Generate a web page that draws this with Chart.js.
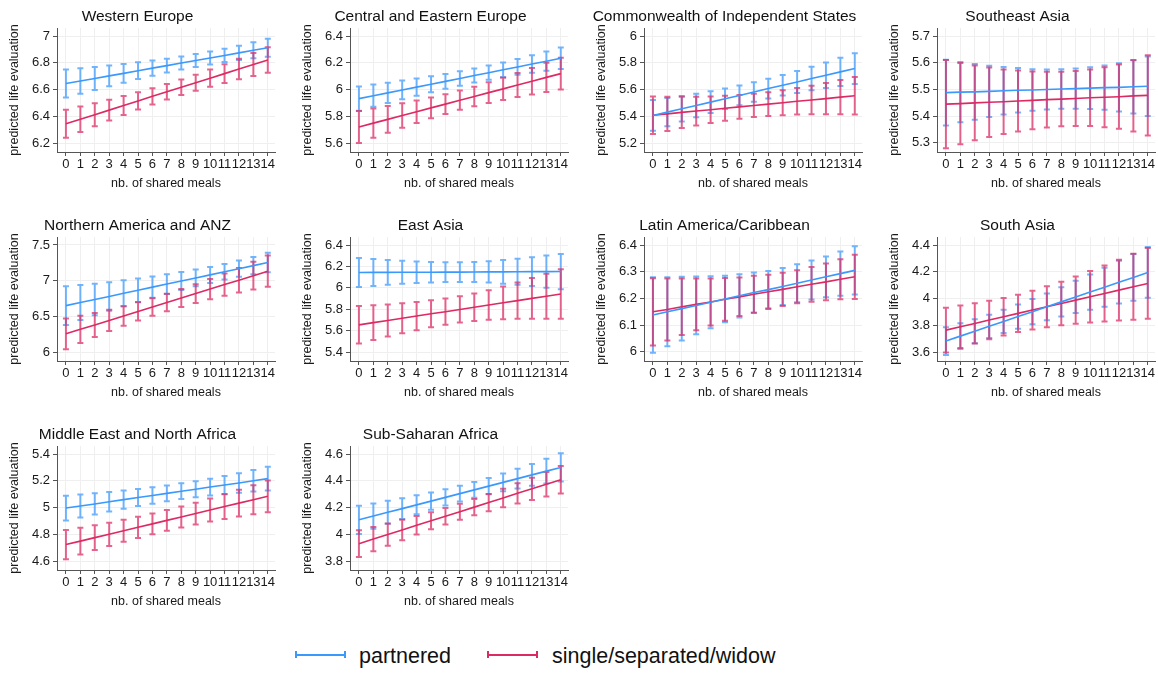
<!DOCTYPE html>
<html>
<head>
<meta charset="utf-8">
<script src="https://cdn.jsdelivr.net/npm/chart.js@4/dist/chart.umd.min.js"></script>
<style>
  body { margin: 0; background: #fff; font-family: "Liberation Sans", Arial, Helvetica, sans-serif; }
  #wrap { position: relative; width: 1158px; height: 673px; background: #fff; overflow: hidden; }
  #wrap canvas { position: absolute; }
  .sample { position: absolute; height: 7px; box-sizing: border-box; }
  .sample div { position: absolute; left: 0; right: 0; top: 2.5px; height: 2px; }
  .legtext { position: absolute; font-size: 21.5px; line-height: 26px; color: #111; white-space: nowrap; }
</style>
</head>
<body>
<div id="wrap">
  <div class="sample" style="left:295px;top:651px;width:51px;border-left:2px solid #3b99fc;border-right:2px solid #3b99fc"><div style="background:#3b99fc"></div></div>
  <div class="legtext" style="left:359px;top:643px">partnered</div>
  <div class="sample" style="left:487px;top:651px;width:51px;border-left:2px solid #dc2a63;border-right:2px solid #dc2a63"><div style="background:#dc2a63"></div></div>
  <div class="legtext" style="left:552px;top:643px">single/separated/widow</div>
</div>
<script>
// Predicted life evaluation by number of shared meals, by region

// x categories
const meals = [0, 1, 2, 3, 4, 5, 6, 7, 8, 9, 10, 11, 12, 13, 14];

// point estimates and half-width of the 95% CI (...Ci)
const westernEuropePartnered = [6.645, 6.664, 6.683, 6.702, 6.721, 6.741, 6.760, 6.779, 6.798, 6.817, 6.836, 6.855, 6.874, 6.894, 6.913];
const westernEuropePartneredCi = [0.104, 0.095, 0.086, 0.077, 0.070, 0.063, 0.057, 0.052, 0.049, 0.048, 0.048, 0.050, 0.054, 0.060, 0.067];
const westernEuropeSingle = [6.344, 6.378, 6.412, 6.446, 6.480, 6.515, 6.549, 6.583, 6.617, 6.651, 6.685, 6.719, 6.753, 6.787, 6.821];
const westernEuropeSingleCi = [0.105, 0.095, 0.086, 0.078, 0.071, 0.065, 0.061, 0.058, 0.058, 0.060, 0.064, 0.070, 0.077, 0.086, 0.095];

const centralEuropePartnered = [5.932, 5.954, 5.975, 5.997, 6.018, 6.040, 6.061, 6.083, 6.105, 6.126, 6.148, 6.169, 6.191, 6.212, 6.234];
const centralEuropePartneredCi = [0.090, 0.083, 0.076, 0.070, 0.065, 0.060, 0.056, 0.054, 0.053, 0.053, 0.055, 0.059, 0.065, 0.072, 0.080];
const centralEuropeSingle = [5.720, 5.749, 5.777, 5.806, 5.834, 5.863, 5.891, 5.920, 5.948, 5.977, 6.005, 6.034, 6.062, 6.091, 6.119];
const centralEuropeSingleCi = [0.120, 0.110, 0.100, 0.092, 0.084, 0.078, 0.074, 0.072, 0.073, 0.077, 0.083, 0.090, 0.099, 0.109, 0.119];

const cisPartnered = [5.406, 5.431, 5.456, 5.481, 5.506, 5.531, 5.556, 5.581, 5.607, 5.632, 5.657, 5.682, 5.707, 5.732, 5.757];
const cisPartneredCi = [0.115, 0.105, 0.095, 0.088, 0.082, 0.077, 0.074, 0.073, 0.074, 0.077, 0.082, 0.088, 0.095, 0.105, 0.115];
const cisSingle = [5.408, 5.418, 5.429, 5.439, 5.449, 5.460, 5.470, 5.481, 5.491, 5.501, 5.512, 5.522, 5.532, 5.543, 5.553];
const cisSingleCi = [0.140, 0.128, 0.117, 0.107, 0.099, 0.093, 0.089, 0.087, 0.089, 0.093, 0.099, 0.107, 0.117, 0.128, 0.140];

const seAsiaPartnered = [5.488, 5.490, 5.491, 5.493, 5.495, 5.497, 5.498, 5.500, 5.502, 5.503, 5.505, 5.507, 5.508, 5.510, 5.512];
const seAsiaPartneredCi = [0.123, 0.113, 0.104, 0.096, 0.089, 0.083, 0.078, 0.075, 0.074, 0.075, 0.078, 0.083, 0.090, 0.100, 0.111];
const seAsiaSingle = [5.445, 5.447, 5.450, 5.452, 5.454, 5.457, 5.459, 5.462, 5.464, 5.466, 5.469, 5.471, 5.473, 5.476, 5.478];
const seAsiaSingleCi = [0.165, 0.152, 0.140, 0.130, 0.121, 0.114, 0.108, 0.104, 0.102, 0.103, 0.106, 0.112, 0.120, 0.133, 0.150];

const northAmericaPartnered = [6.650, 6.693, 6.736, 6.779, 6.823, 6.866, 6.909, 6.952, 6.995, 7.038, 7.081, 7.125, 7.168, 7.211, 7.254];
const northAmericaPartneredCi = [0.270, 0.245, 0.222, 0.200, 0.182, 0.165, 0.150, 0.138, 0.127, 0.118, 0.112, 0.110, 0.113, 0.122, 0.137];
const northAmericaSingle = [6.255, 6.318, 6.380, 6.443, 6.506, 6.569, 6.631, 6.694, 6.757, 6.819, 6.882, 6.945, 7.007, 7.070, 7.133];
const northAmericaSingleCi = [0.216, 0.190, 0.168, 0.150, 0.137, 0.128, 0.124, 0.123, 0.125, 0.131, 0.141, 0.155, 0.172, 0.194, 0.220];

const eastAsiaPartnered = [6.143, 6.144, 6.144, 6.145, 6.146, 6.146, 6.147, 6.147, 6.148, 6.149, 6.149, 6.150, 6.151, 6.151, 6.152];
const eastAsiaPartneredCi = [0.136, 0.126, 0.116, 0.108, 0.101, 0.096, 0.093, 0.092, 0.094, 0.100, 0.110, 0.122, 0.135, 0.150, 0.165];
const eastAsiaSingle = [5.654, 5.675, 5.695, 5.716, 5.736, 5.757, 5.777, 5.798, 5.819, 5.839, 5.860, 5.880, 5.901, 5.921, 5.942];
const eastAsiaSingleCi = [0.175, 0.162, 0.150, 0.140, 0.132, 0.126, 0.123, 0.123, 0.128, 0.138, 0.153, 0.170, 0.190, 0.210, 0.232];

const latinAmericaPartnered = [6.138, 6.150, 6.162, 6.174, 6.186, 6.198, 6.210, 6.222, 6.233, 6.245, 6.257, 6.269, 6.281, 6.293, 6.305];
const latinAmericaPartneredCi = [0.141, 0.129, 0.119, 0.108, 0.097, 0.087, 0.081, 0.075, 0.070, 0.069, 0.071, 0.073, 0.076, 0.083, 0.090];
const latinAmericaSingle = [6.150, 6.159, 6.169, 6.178, 6.187, 6.197, 6.206, 6.216, 6.225, 6.234, 6.244, 6.253, 6.262, 6.272, 6.281];
const latinAmericaSingleCi = [0.126, 0.116, 0.106, 0.097, 0.088, 0.080, 0.072, 0.069, 0.064, 0.062, 0.062, 0.065, 0.069, 0.075, 0.083];

const southAsiaPartnered = [3.682, 3.719, 3.755, 3.792, 3.829, 3.865, 3.902, 3.938, 3.975, 4.012, 4.048, 4.085, 4.122, 4.158, 4.195];
const southAsiaPartneredCi = [0.104, 0.096, 0.090, 0.087, 0.087, 0.090, 0.094, 0.100, 0.109, 0.120, 0.132, 0.146, 0.160, 0.175, 0.190];
const southAsiaSingle = [3.764, 3.789, 3.814, 3.839, 3.864, 3.889, 3.914, 3.939, 3.963, 3.988, 4.013, 4.038, 4.063, 4.088, 4.113];
const southAsiaSingleCi = [0.167, 0.158, 0.150, 0.144, 0.140, 0.140, 0.145, 0.153, 0.163, 0.176, 0.192, 0.209, 0.227, 0.246, 0.265];

const menaPartnered = [4.996, 5.012, 5.027, 5.043, 5.059, 5.075, 5.090, 5.106, 5.122, 5.137, 5.153, 5.169, 5.184, 5.200, 5.216];
const menaPartneredCi = [0.093, 0.086, 0.079, 0.073, 0.068, 0.064, 0.061, 0.059, 0.059, 0.060, 0.063, 0.067, 0.073, 0.080, 0.088];
const menaSingle = [4.723, 4.749, 4.775, 4.800, 4.826, 4.852, 4.878, 4.904, 4.929, 4.955, 4.981, 5.007, 5.033, 5.058, 5.084];
const menaSingleCi = [0.109, 0.100, 0.093, 0.087, 0.082, 0.079, 0.077, 0.077, 0.078, 0.081, 0.086, 0.092, 0.100, 0.109, 0.119];

const ssaPartnered = [4.108, 4.136, 4.164, 4.192, 4.220, 4.248, 4.276, 4.304, 4.332, 4.360, 4.388, 4.416, 4.444, 4.472, 4.500];
const ssaPartneredCi = [0.105, 0.095, 0.086, 0.078, 0.071, 0.065, 0.061, 0.058, 0.058, 0.061, 0.066, 0.073, 0.082, 0.093, 0.105];
const ssaSingle = [3.930, 3.964, 3.998, 4.032, 4.067, 4.101, 4.135, 4.169, 4.203, 4.237, 4.271, 4.306, 4.340, 4.374, 4.408];
const ssaSingleCi = [0.100, 0.091, 0.083, 0.076, 0.069, 0.064, 0.061, 0.060, 0.061, 0.064, 0.069, 0.075, 0.083, 0.092, 0.103];

// y tick labels per panel
const ticksWesternEurope = [6.2, 6.4, 6.6, 6.8, 7];
const ticksCentralEurope = [5.6, 5.8, 6, 6.2, 6.4];
const ticksCis = [5.2, 5.4, 5.6, 5.8, 6];
const ticksSeAsia = [5.3, 5.4, 5.5, 5.6, 5.7];
const ticksNorthAmerica = [6, 6.5, 7, 7.5];
const ticksEastAsia = [5.4, 5.6, 5.8, 6, 6.2, 6.4];
const ticksLatinAmerica = [6, 6.1, 6.2, 6.3, 6.4];
const ticksSouthAsia = [3.6, 3.8, 4, 4.2, 4.4];
const ticksMena = [4.6, 4.8, 5, 5.2, 5.4];
const ticksSsa = [3.8, 4, 4.2, 4.4, 4.6];

const panels = [
    { title: 'Western Europe', p: westernEuropePartnered, pCi: westernEuropePartneredCi, s: westernEuropeSingle, sCi: westernEuropeSingleCi, ticks: ticksWesternEurope, min: 6.133, max: 7.06 },
    { title: 'Central and Eastern Europe', p: centralEuropePartnered, pCi: centralEuropePartneredCi, s: centralEuropeSingle, sCi: centralEuropeSingleCi, ticks: ticksCentralEurope, min: 5.533, max: 6.46 },
    { title: 'Commonwealth of Independent States', p: cisPartnered, pCi: cisPartneredCi, s: cisSingle, sCi: cisSingleCi, ticks: ticksCis, min: 5.133, max: 6.06 },
    { title: 'Southeast Asia', p: seAsiaPartnered, pCi: seAsiaPartneredCi, s: seAsiaSingle, sCi: seAsiaSingleCi, ticks: ticksSeAsia, min: 5.266, max: 5.73 },
    { title: 'Northern America and ANZ', p: northAmericaPartnered, pCi: northAmericaPartneredCi, s: northAmericaSingle, sCi: northAmericaSingleCi, ticks: ticksNorthAmerica, min: 5.874, max: 7.612 },
    { title: 'East Asia', p: eastAsiaPartnered, pCi: eastAsiaPartneredCi, s: eastAsiaSingle, sCi: eastAsiaSingleCi, ticks: ticksEastAsia, min: 5.316, max: 6.475 },
    { title: 'Latin America/Caribbean', p: latinAmericaPartnered, pCi: latinAmericaPartneredCi, s: latinAmericaSingle, sCi: latinAmericaSingleCi, ticks: ticksLatinAmerica, min: 5.966, max: 6.43 },
    { title: 'South Asia', p: southAsiaPartnered, pCi: southAsiaPartneredCi, s: southAsiaSingle, sCi: southAsiaSingleCi, ticks: ticksSouthAsia, min: 3.533, max: 4.46 },
    { title: 'Middle East and North Africa', p: menaPartnered, pCi: menaPartneredCi, s: menaSingle, sCi: menaSingleCi, ticks: ticksMena, min: 4.533, max: 5.46 },
    { title: 'Sub-Saharan Africa', p: ssaPartnered, pCi: ssaPartneredCi, s: ssaSingle, sCi: ssaSingleCi, ticks: ticksSsa, min: 3.733, max: 4.66 }
];

// layout of the small multiples
const colLeft = [0, 293, 587, 880];
const rowTop = [0, 209, 418];
const FONT = '"Liberation Sans", Arial, Helvetica, sans-serif';
const BLUE = '#3b99fc';
const RED = '#dc2a63';
const BLUE_BAR = 'rgba(59, 153, 252, 0.72)';
const RED_BAR = 'rgba(220, 42, 99, 0.72)';

// draws the CI caps under the lines, using the chart scales
const errorBars = {
    id: 'errorBars',
    beforeDatasetsDraw(chart) {
        const { ctx } = chart;
        const x = chart.scales.x, y = chart.scales.y;
        chart.data.datasets.forEach(ds => {
            ctx.save();
            ctx.strokeStyle = ds.barColor;
            ctx.lineWidth = 2;
            ds.data.forEach((v, i) => {
                const px = x.getPixelForValue(meals[i]);
                const top = y.getPixelForValue(v + ds.ci[i]);
                const bot = y.getPixelForValue(v - ds.ci[i]);
                ctx.beginPath();
                ctx.moveTo(px, top);
                ctx.lineTo(px, bot);
                ctx.moveTo(px - 3, top);
                ctx.lineTo(px + 3, top);
                ctx.moveTo(px - 3, bot);
                ctx.lineTo(px + 3, bot);
                ctx.stroke();
            });
            ctx.restore();
        });
    }
};

function makePanel(panel, idx) {
    const canvas = document.createElement('canvas');
    canvas.width = 280;
    canvas.height = 196;
    canvas.style.left = colLeft[idx % 4] + 'px';
    canvas.style.top = rowTop[Math.floor(idx / 4)] + 'px';
    document.getElementById('wrap').appendChild(canvas);

    new Chart(canvas, {
        type: 'line',
        data: {
            labels: meals,
            datasets: [
                { data: panel.p, ci: panel.pCi, borderColor: BLUE, barColor: BLUE_BAR, borderWidth: 1.6, pointRadius: 0, tension: 0 },
                { data: panel.s, ci: panel.sCi, borderColor: RED, barColor: RED_BAR, borderWidth: 1.6, pointRadius: 0, tension: 0 }
            ]
        },
        options: {
            responsive: false,
            animation: false,
            devicePixelRatio: 1,
            layout: { padding: { left: 0, right: 5, top: 0, bottom: 0 } },
            plugins: {
                legend: { display: false },
                tooltip: { enabled: false },
                title: {
                    display: true,
                    text: panel.title,
                    color: '#111',
                    font: { family: FONT, size: 15.5, weight: 'normal' },
                    padding: { top: 7, bottom: 2.4 }
                }
            },
            scales: {
                x: {
                    type: 'linear',
                    min: -0.62,
                    max: 14.5,
                    afterBuildTicks: s => { s.ticks = meals.map(v => ({ value: v })); },
                    afterFit: s => { s.height = 44; },
                    ticks: { color: '#1a1a1a', font: { family: FONT, size: 13 }, padding: 1, autoSkip: false, maxRotation: 0 },
                    grid: { color: '#efefef', tickLength: 4, tickColor: '#555' },
                    border: { color: '#555', width: 1 },
                    title: { display: true, text: 'nb. of shared meals', color: '#1a1a1a', font: { family: FONT, size: 12.5 }, padding: { top: 0, bottom: 5 } }
                },
                y: {
                    min: panel.min,
                    max: panel.max,
                    afterBuildTicks: s => { s.ticks = panel.ticks.map(v => ({ value: v })); },
                    afterFit: s => { s.width = 57; },
                    ticks: { color: '#1a1a1a', font: { family: FONT, size: 13 }, padding: 3, callback: v => String(+v.toFixed(2)) },
                    grid: { color: '#efefef', tickLength: 4, tickColor: '#555' },
                    border: { color: '#555', width: 1 },
                    title: { display: true, text: 'predicted life evaluation', color: '#1a1a1a', font: { family: FONT, size: 12.5 }, padding: { top: 7, bottom: 0 } }
                }
            }
        },
        plugins: [errorBars]
    });
}

panels.forEach(makePanel);
</script>
</body>
</html>
